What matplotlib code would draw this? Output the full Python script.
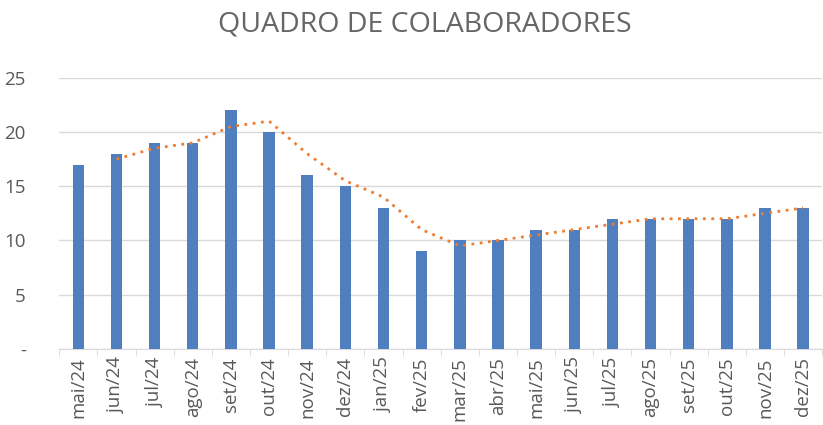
import numpy as np
import matplotlib.pyplot as plt

meses = ["mai/24", "jun/24", "jul/24", "ago/24", "set/24", "out/24", "nov/24",
         "dez/24", "jan/25", "fev/25", "mar/25", "abr/25", "mai/25", "jun/25",
         "jul/25", "ago/25", "set/25", "out/25", "nov/25", "dez/25"]
colaboradores = [17, 18, 19, 19, 22, 20, 16, 15, 13, 9, 10, 10, 11, 11,
                 12, 12, 12, 12, 13, 13]
# linha de tendencia (media movel de 2 periodos), a partir de jun/24
tendencia = [17.5, 18.5, 19, 20.5, 21, 18, 15.5, 14, 11, 9.5, 10, 10.5,
             11, 11.5, 12, 12, 12, 12.5, 13]

plt.rcParams['font.family'] = ['Open Sans', 'DejaVu Sans']
cinza = "#595959"

fig = plt.figure(figsize=(8.23, 4.25), dpi=100)
ax = fig.add_axes([0.072, 0.179, 0.927, 0.638])

x = np.arange(len(meses))
ax.bar(x, colaboradores, width=0.3, color="#4F7FBF", zorder=3)
ax.plot(x[1:], tendencia, color="#ED7D31", linestyle=(0, (1, 2)),
        linewidth=2, zorder=4)

ax.set_xlim(-0.5, len(meses) - 0.5)
ax.set_ylim(0, 25)
ax.set_yticks([0, 5, 10, 15, 20, 25])
ax.set_yticklabels(["-", "5", "10", "15", "20", "25"], color=cinza, fontsize=13.5)
ax.grid(axis="y", color="#D9D9D9", linewidth=1, zorder=0)

ax.set_xticks(x)
ax.set_xticklabels(meses, rotation=90, color=cinza, fontsize=13.5)
ax.tick_params(axis="x", length=0, pad=6)
ax.tick_params(axis="y", length=0, pad=24)
for lab in ax.get_yticklabels():
    lab.set_horizontalalignment("right")
ax.set_xticks(np.arange(-0.5, len(meses)), minor=True)
ax.tick_params(axis="x", which="minor", length=5, color="#D9D9D9")

for s in ["top", "right", "left"]:
    ax.spines[s].set_visible(False)
ax.spines["bottom"].set_color("#D9D9D9")

fig.suptitle("QUADRO DE COLABORADORES", x=0.516, y=0.975, fontsize=20.5,
             color="#666666")

plt.savefig("out.png")
